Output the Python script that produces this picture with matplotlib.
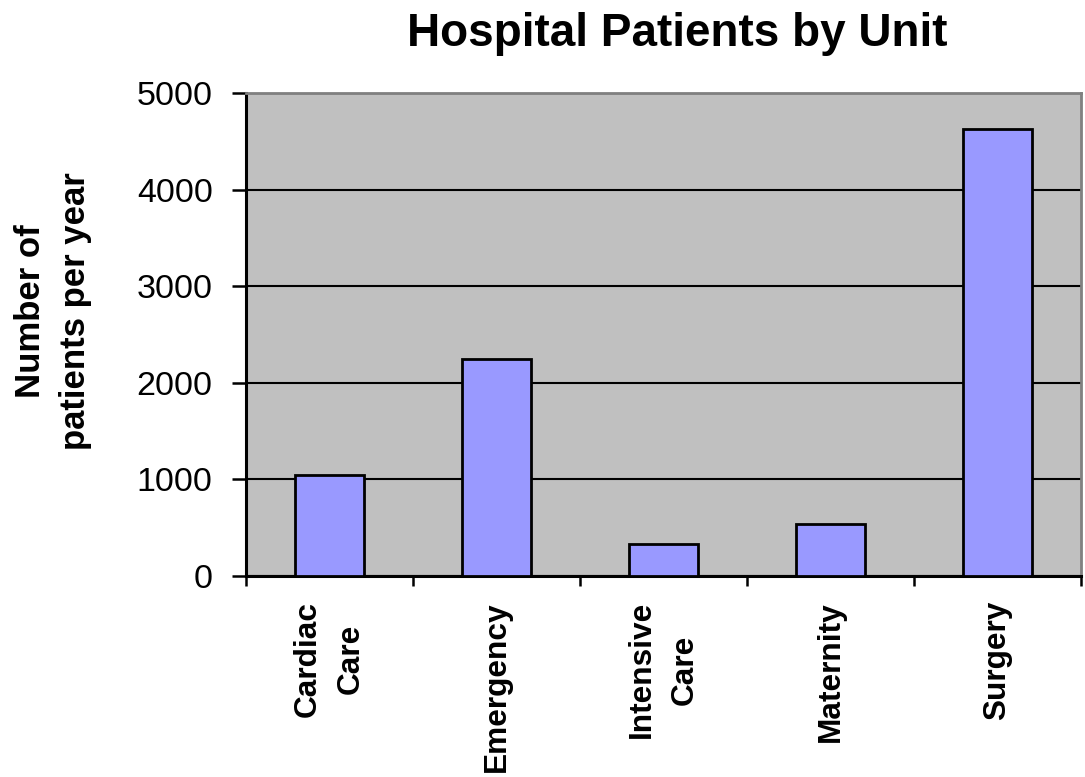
import matplotlib
matplotlib.use('Agg')
import matplotlib.pyplot as plt
import numpy as np

plt.rcParams['font.family'] = ['Liberation Sans', 'DejaVu Sans']

# data
units = ['Cardiac\nCare', 'Emergency', 'Intensive\nCare', 'Maternity', 'Surgery']
patients = [1050, 2250, 330, 540, 4630]

fig = plt.figure(figsize=(10.85, 7.77), dpi=100)
ax = fig.add_axes([0.2267, 0.2587, 0.7696, 0.6216])
ax.set_facecolor('#c0c0c0')

x = np.arange(len(units))
ax.bar(x, patients, width=0.41, color='#9999ff', edgecolor='black', linewidth=2.0, zorder=3)

ax.set_xlim(-0.5, len(units) - 0.5)
ax.set_ylim(0, 5000)
ax.set_yticks(range(0, 5001, 1000))
ax.yaxis.grid(True, color='black', linewidth=1.5, zorder=1)
ax.set_axisbelow(True)

# category labels centred, tick marks on the boundaries
ax.set_xticks(x)
ax.set_xticklabels(units, rotation=90, fontsize=22.8, fontweight='bold',
                   va='top', ha='center', linespacing=1.55)
ax.tick_params(axis='x', which='major', length=0, pad=18)
ax.set_xticks(np.arange(len(units) + 1) - 0.5, minor=True)
ax.tick_params(axis='x', which='minor', length=7, width=1.8, direction='out')

ax.tick_params(axis='y', which='major', length=10, width=1.8, direction='out',
               labelsize=24.5, pad=14)

for s in ['left', 'bottom']:
    ax.spines[s].set_linewidth(2.2)
    ax.spines[s].set_color('black')
for s in ['top', 'right']:
    ax.spines[s].set_linewidth(2)
    ax.spines[s].set_color('#808080')

fig.text(53 / 1085, 1 - 311 / 777, 'Number of\npatients per year', fontsize=25,
         fontweight='bold', rotation=90, ha='center', va='center', linespacing=1.45)
fig.text(677 / 1085, 1 - 46 / 777, 'Hospital Patients by Unit', fontsize=33,
         fontweight='bold', ha='center', va='baseline')

fig.savefig('out.png', dpi=100)
